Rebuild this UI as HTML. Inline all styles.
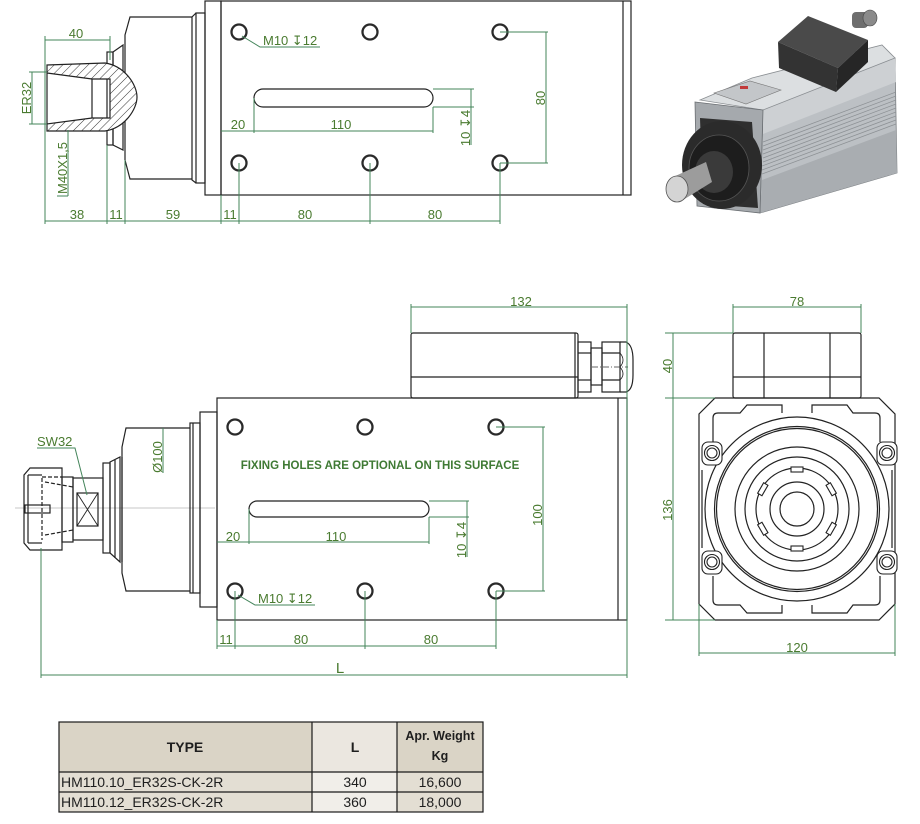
<!DOCTYPE html>
<html><head><meta charset="utf-8">
<style>
html,body{margin:0;padding:0;background:#fff;width:920px;height:824px;overflow:hidden}
svg{display:block}
.k{stroke:#222;stroke-width:1.2;fill:none}
.d{stroke:#43845a;stroke-width:1;fill:none}
.g{stroke:#b5b5b5;stroke-width:0.7;fill:none}
text{font-family:"Liberation Sans","DejaVu Sans",sans-serif}
.t{fill:#4a7b30;font-size:13px}
.h{stroke:#2a2a2a;stroke-width:2.3;fill:#fff}
</style></head><body>
<svg width="920" height="824" viewBox="0 0 920 824" xmlns="http://www.w3.org/2000/svg">
<defs>
<pattern id="hp" width="6" height="6" patternUnits="userSpaceOnUse" patternTransform="rotate(45)">
<rect width="6" height="6" fill="#fff"/><line x1="0" y1="0" x2="0" y2="6" stroke="#222" stroke-width="0.9"/></pattern>
</defs>

<!-- ================= TOP VIEW ================= -->
<g class="k">
<rect x="221" y="1" width="410" height="194"/>
<line x1="623" y1="1" x2="623" y2="195"/>
<rect x="205" y="1" width="16" height="194"/>
<rect x="196" y="13" width="9" height="170"/>
<polyline points="196,13 192,17 192,180 196,183"/>
<path d="M192,17 L130,17 L125,35 L125,160 L130,179 L192,179"/>
<rect x="107" y="52" width="6" height="93"/>
<polygon points="113,52 123,45 123,150 113,145"/>
<path d="M47,65 L105,63 C125,66 137,85 137,97 C137,109 125,128 105,131 L47,131 Z M47,73 L92,79 L110,79 L110,118 L92,118 L47,124 Z" fill="url(#hp)" fill-rule="evenodd"/>
<line x1="92" y1="79" x2="92" y2="118"/>
</g>
<g>
<circle cx="239" cy="32" r="7.5" class="h"/><circle cx="370" cy="32" r="7.5" class="h"/><circle cx="500" cy="32" r="7.5" class="h"/>
<circle cx="239" cy="163" r="7.5" class="h"/><circle cx="370" cy="163" r="7.5" class="h"/><circle cx="500" cy="163" r="7.5" class="h"/>
<rect x="254" y="89" width="179" height="18" rx="9" class="k"/>
</g>
<g class="d">
<line x1="45" y1="40" x2="110" y2="40"/><line x1="45" y1="36" x2="45" y2="224"/><line x1="110" y1="36" x2="110" y2="60"/>
<line x1="32" y1="72" x2="32" y2="124"/><line x1="29" y1="72" x2="47" y2="72"/><line x1="29" y1="124" x2="47" y2="124"/>
<line x1="68" y1="130" x2="68" y2="196"/><line x1="57" y1="196" x2="68" y2="196"/>
<line x1="45" y1="221" x2="500" y2="221"/>
<line x1="107" y1="145" x2="107" y2="224"/><line x1="125" y1="160" x2="125" y2="224"/>
<line x1="221" y1="195" x2="221" y2="224"/><line x1="239" y1="163" x2="239" y2="224"/>
<line x1="370" y1="163" x2="370" y2="224"/><line x1="500" y1="163" x2="500" y2="224"/>
<polyline points="242,36 260,47 320,47"/>
<line x1="221" y1="131" x2="433" y2="131"/><line x1="254" y1="98" x2="254" y2="133"/><line x1="433" y1="107" x2="433" y2="133"/>
<line x1="433" y1="89" x2="474" y2="89"/><line x1="433" y1="107" x2="474" y2="107"/><line x1="471" y1="89" x2="471" y2="145"/>
<line x1="500" y1="32" x2="548" y2="32"/><line x1="500" y1="163" x2="548" y2="163"/><line x1="546" y1="32" x2="546" y2="163"/>
</g>
<g class="t">
<text x="76" y="38" text-anchor="middle">40</text>
<text transform="translate(31,98) rotate(-90)" text-anchor="middle">ER32</text>
<text transform="translate(67,168) rotate(-90)" text-anchor="middle">M40X1,5</text>
<text x="77" y="219" text-anchor="middle">38</text>
<text x="116" y="219" text-anchor="middle">11</text>
<text x="173" y="219" text-anchor="middle">59</text>
<text x="230" y="219" text-anchor="middle">11</text>
<text x="305" y="219" text-anchor="middle">80</text>
<text x="435" y="219" text-anchor="middle">80</text>
<text x="263" y="45">M10 ↧12</text>
<text x="238" y="129" text-anchor="middle">20</text>
<text x="341" y="129" text-anchor="middle">110</text>
<text transform="translate(470,128) rotate(-90)" text-anchor="middle">10 ↧4</text>
<text transform="translate(545,98) rotate(-90)" text-anchor="middle">80</text>
</g>

<!-- ================= 3D PICTURE ================= -->
<g>
<polygon points="763,110 895,58 897,173 760,213" fill="#bcc0c4" stroke="#7a7e82" stroke-width="0.8"/>
<polygon points="763,110 895,58 896,82 763,134" fill="#cdd0d3"/>
<polygon points="762,180 896,130 897,173 760,213" fill="#a9adb1"/>
<g stroke="#8d9195" stroke-width="0.8">
<line x1="763" y1="142" x2="896" y2="92"/><line x1="763" y1="146" x2="896" y2="96"/><line x1="763" y1="150" x2="896" y2="100"/>
<line x1="763" y1="154" x2="896" y2="104"/><line x1="763" y1="158" x2="896" y2="108"/><line x1="763" y1="162" x2="896" y2="112"/>
<line x1="762" y1="166" x2="896" y2="116"/><line x1="762" y1="170" x2="896" y2="120"/><line x1="762" y1="174" x2="896" y2="124"/>
</g>
<polygon points="700,100 752,78 882,45 895,58 763,110" fill="#dcdfe1" stroke="#8a8e92" stroke-width="0.8"/>
<polygon points="695,102 763,110 760,213 697,206" fill="#a5a9ad" stroke="#6a6e72" stroke-width="0.8"/>
<polygon points="714,93 750,81 781,90 746,104" fill="#c3c6c9" stroke="#777" stroke-width="0.6"/>
<rect x="740" y="86" width="8" height="3" fill="#c23a3a"/>
<polygon points="778,42 808,16 868,40 838,68" fill="#4a4a4a"/>
<polygon points="778,42 838,68 836,92 779,68" fill="#333"/>
<polygon points="838,68 868,40 868,62 836,92" fill="#262626"/>
<rect x="852" y="12" width="16" height="16" rx="4" fill="#6e6e6e"/>
<ellipse cx="870" cy="18" rx="7" ry="8" fill="#8a8a8a" stroke="#444" stroke-width="0.6"/>
<polygon points="700,118 752,122 758,208 703,204" fill="#2f2f2f"/>
<ellipse cx="722" cy="165" rx="40" ry="44" fill="#2b2b2b"/>
<ellipse cx="719" cy="168" rx="30" ry="33" fill="#1d1d1d" stroke="#555" stroke-width="0.8"/>
<ellipse cx="714" cy="172" rx="19" ry="21" fill="#3a3a3a"/>
<polygon points="706,162 712,182 683,200 671,178" fill="#9c9c9c"/>
<ellipse cx="677" cy="189" rx="11" ry="13" fill="#d4d4d4" stroke="#555" stroke-width="0.8"/>
</g>

<!-- ================= FRONT/SIDE VIEW ================= -->
<line x1="15" y1="508" x2="215" y2="508" class="g"/>
<g class="k">
<rect x="411" y="333" width="167" height="65" rx="2"/>
<line x1="411" y1="377" x2="578" y2="377"/><line x1="575" y1="333" x2="575" y2="398"/>
<rect x="578" y="342" width="13" height="50"/><line x1="578" y1="353" x2="591" y2="353"/><line x1="578" y1="380" x2="591" y2="380"/>
<rect x="591" y="348" width="11" height="37"/>
<rect x="602" y="342" width="18" height="50"/><line x1="602" y1="353" x2="620" y2="353"/><line x1="602" y1="380" x2="620" y2="380"/>
<path d="M620,342 L626,342 Q633,345 633,360 L633,375 Q633,390 626,392 L620,392"/>
<path d="M620,353 Q626,360 620,367 M620,367 Q626,374 620,380" stroke-width="0.8"/>
<rect x="217" y="398" width="410" height="222"/>
<line x1="618" y1="398" x2="618" y2="620"/>
<rect x="200" y="412" width="17" height="195"/>
<rect x="190" y="423" width="10" height="170"/><line x1="193" y1="423" x2="193" y2="593"/>
<path d="M190,428 L126,428 L122,447 L122,573 L126,591 L190,591"/>
<line x1="122" y1="457" x2="122" y2="562"/>
<polygon points="110,462 120,457 120,562 110,553"/>
<line x1="115" y1="460" x2="115" y2="558"/>
<rect x="103" y="463" width="7" height="90"/>
<rect x="73" y="478" width="30" height="62"/>
<rect x="77" y="493" width="21" height="33"/>
<path d="M77,493 L98,526 M98,493 L77,526" stroke-width="0.9"/>
<path d="M30,468 L24,475 L24,543 L30,550 L62,550 L62,468 Z"/>
<rect x="62" y="477" width="11" height="65"/>
<line x1="28" y1="475" x2="28" y2="543"/>
<line x1="28" y1="475" x2="42" y2="475"/><line x1="28" y1="543" x2="42" y2="543"/>
<rect x="25" y="505" width="25" height="8"/>
<g stroke-dasharray="4,2"><line x1="42" y1="478" x2="42" y2="540"/><line x1="45" y1="482" x2="73" y2="487"/><line x1="45" y1="535" x2="73" y2="530"/><line x1="42" y1="477" x2="62" y2="477"/></g>
</g>
<line x1="592" y1="367" x2="628" y2="367" stroke="#333" stroke-width="0.7" stroke-dasharray="6,2,1,2"/>
<g>
<circle cx="235" cy="427" r="7.5" class="h"/><circle cx="365" cy="427" r="7.5" class="h"/><circle cx="496" cy="427" r="7.5" class="h"/>
<circle cx="235" cy="591" r="7.5" class="h"/><circle cx="365" cy="591" r="7.5" class="h"/><circle cx="496" cy="591" r="7.5" class="h"/>
<rect x="249" y="501" width="180" height="16" rx="8" class="k"/>
</g>
<g class="d">
<line x1="411" y1="307" x2="627" y2="307"/><line x1="411" y1="304" x2="411" y2="333"/><line x1="627" y1="304" x2="627" y2="678"/>
<line x1="41" y1="548" x2="41" y2="678"/><line x1="41" y1="675" x2="627" y2="675"/>
<line x1="163" y1="428" x2="163" y2="473"/>
<polyline points="37,448 75,448 87,495"/>
<line x1="217" y1="542" x2="429" y2="542"/><line x1="249" y1="509" x2="249" y2="544"/><line x1="429" y1="517" x2="429" y2="544"/>
<line x1="429" y1="501" x2="469" y2="501"/><line x1="429" y1="517" x2="469" y2="517"/><line x1="467" y1="501" x2="467" y2="557"/>
<line x1="496" y1="427" x2="545" y2="427"/><line x1="496" y1="591" x2="545" y2="591"/><line x1="543" y1="427" x2="543" y2="591"/>
<polyline points="238,595 255,605 315,605"/>
<line x1="217" y1="646" x2="496" y2="646"/>
<line x1="217" y1="620" x2="217" y2="649"/><line x1="235" y1="591" x2="235" y2="649"/><line x1="365" y1="591" x2="365" y2="649"/><line x1="496" y1="591" x2="496" y2="649"/>
</g>
<g class="t">
<text x="521" y="306" text-anchor="middle">132</text>
<text x="37" y="446">SW32</text>
<text transform="translate(162,457) rotate(-90)" text-anchor="middle">Ø100</text>
<text x="380" y="469" text-anchor="middle" style="font-size:11.5px;font-weight:bold;fill:#3f7a34">FIXING HOLES ARE OPTIONAL ON THIS SURFACE</text>
<text x="233" y="541" text-anchor="middle">20</text>
<text x="336" y="541" text-anchor="middle">110</text>
<text transform="translate(466,540) rotate(-90)" text-anchor="middle">10 ↧4</text>
<text transform="translate(542,515) rotate(-90)" text-anchor="middle">100</text>
<text x="258" y="603">M10 ↧12</text>
<text x="226" y="644" text-anchor="middle">11</text>
<text x="301" y="644" text-anchor="middle">80</text>
<text x="431" y="644" text-anchor="middle">80</text>
<text x="340" y="673" text-anchor="middle" style="font-size:15px">L</text>
</g>

<!-- ================= END VIEW ================= -->
<g class="k">
<rect x="733" y="333" width="128" height="65" rx="2"/>
<line x1="764" y1="333" x2="764" y2="398"/><line x1="830" y1="333" x2="830" y2="398"/><line x1="733" y1="377" x2="861" y2="377"/>
<polygon points="715,398 879,398 895,414 895,604 879,620 715,620 699,604 699,414"/>
<path d="M713,442 L713,418 Q713,413 718,413 L740,413 L747,405 L782,405 L782,413"/>
<path d="M880,442 L880,418 Q880,413 875,413 L853,413 L847,405 L812,405 L812,413"/>
<path d="M713,576 L713,600 Q713,605 718,605 L740,605 L747,613 L782,613 L782,605"/>
<path d="M880,576 L880,600 Q880,605 875,605 L853,605 L847,613 L812,613 L812,605"/>
<line x1="702" y1="470" x2="702" y2="548"/><line x1="892" y1="470" x2="892" y2="548"/>
<circle cx="797" cy="509" r="92"/>
<circle cx="797" cy="509" r="82.5"/>
<circle cx="797" cy="509" r="80.5"/>
<circle cx="797" cy="509" r="62"/>
<circle cx="797" cy="509" r="52"/>
<circle cx="797" cy="509" r="41"/>
<circle cx="797" cy="509" r="27"/>
<circle cx="797" cy="509" r="17"/>
</g>
<g fill="#fff" stroke="#222" stroke-width="1.1">
<rect x="702" y="442" width="20" height="23" rx="6"/><rect x="877" y="442" width="20" height="23" rx="6"/>
<rect x="702" y="551" width="20" height="23" rx="6"/><rect x="877" y="551" width="20" height="23" rx="6"/>
<circle cx="712" cy="453" r="7.5"/><circle cx="712" cy="453" r="5"/>
<circle cx="887" cy="453" r="7.5"/><circle cx="887" cy="453" r="5"/>
<circle cx="712" cy="562" r="7.5"/><circle cx="712" cy="562" r="5"/>
<circle cx="887" cy="562" r="7.5"/><circle cx="887" cy="562" r="5"/>
<g transform="translate(797,509)">
<rect x="-6" y="-42" width="12" height="5" transform="rotate(0)"/>
<rect x="-6" y="-42" width="12" height="5" transform="rotate(60)"/>
<rect x="-6" y="-42" width="12" height="5" transform="rotate(120)"/>
<rect x="-6" y="-42" width="12" height="5" transform="rotate(180)"/>
<rect x="-6" y="-42" width="12" height="5" transform="rotate(240)"/>
<rect x="-6" y="-42" width="12" height="5" transform="rotate(300)"/>
</g>
</g>
<g class="d">
<line x1="733" y1="307" x2="861" y2="307"/><line x1="733" y1="304" x2="733" y2="333"/><line x1="861" y1="304" x2="861" y2="333"/>
<line x1="673" y1="333" x2="673" y2="620"/>
<line x1="665" y1="333" x2="733" y2="333"/><line x1="665" y1="398" x2="715" y2="398"/><line x1="665" y1="620" x2="715" y2="620"/>
<line x1="699" y1="653" x2="895" y2="653"/><line x1="699" y1="604" x2="699" y2="656"/><line x1="895" y1="604" x2="895" y2="656"/>
</g>
<g class="t">
<text x="797" y="306" text-anchor="middle">78</text>
<text transform="translate(672,366) rotate(-90)" text-anchor="middle">40</text>
<text transform="translate(672,510) rotate(-90)" text-anchor="middle">136</text>
<text x="797" y="652" text-anchor="middle">120</text>
</g>

<!-- ================= TABLE ================= -->
<g>
<rect x="59" y="722" width="424" height="50" fill="#dad4c6"/>
<rect x="312" y="722" width="85" height="50" fill="#ebe7e0"/>
<rect x="59" y="772" width="253" height="40" fill="#e3ded3"/>
<rect x="312" y="772" width="85" height="40" fill="#f1eee9"/>
<rect x="397" y="772" width="86" height="40" fill="#e3ded3"/>
<g stroke="#1a1a1a" stroke-width="1.2" fill="none">
<rect x="59" y="722" width="424" height="90"/>
<line x1="59" y1="772" x2="483" y2="772"/><line x1="59" y1="792" x2="483" y2="792"/>
<line x1="312" y1="722" x2="312" y2="812"/><line x1="397" y1="722" x2="397" y2="812"/>
</g>
<g fill="#1e1e1e" style="font-size:14px">
<text x="185" y="752" text-anchor="middle" font-weight="bold">TYPE</text>
<text x="355" y="752" text-anchor="middle" font-weight="bold">L</text>
<text x="440" y="740" text-anchor="middle" font-weight="bold" style="font-size:12.5px">Apr. Weight</text>
<text x="440" y="760" text-anchor="middle" font-weight="bold" style="font-size:12.5px">Kg</text>
<text x="61" y="787">HM110.10_ER32S-CK-2R</text>
<text x="355" y="787" text-anchor="middle">340</text>
<text x="440" y="787" text-anchor="middle">16,600</text>
<text x="61" y="807">HM110.12_ER32S-CK-2R</text>
<text x="355" y="807" text-anchor="middle">360</text>
<text x="440" y="807" text-anchor="middle">18,000</text>
</g>
</g>
</svg>
</body></html>
